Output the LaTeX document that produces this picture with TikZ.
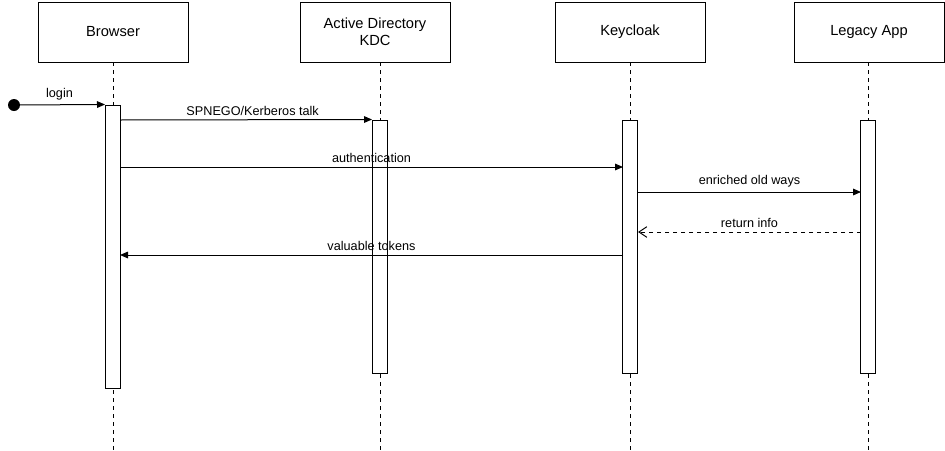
\documentclass[tikz,border=0pt]{standalone}
\usepackage{fontspec}
\setmainfont{Liberation Sans}
\usetikzlibrary{arrows.meta}
\begin{document}
\begin{tikzpicture}[x=0.75pt,y=-0.75pt,line width=0.75pt,
  actor/.style={draw,fill=white,minimum width=112.5pt,minimum height=45pt,align=center,font=\fontsize{11}{13}\selectfont},
  life/.style={dash pattern=on 3pt off 3pt},
  act/.style={draw,fill=white,minimum width=11.25pt,inner sep=0pt},
  msg/.style={-{Triangle[length=6pt,width=5pt]}},
  ret/.style={-{Straight Barb[length=6pt,width=8pt]},dash pattern=on 3pt off 3pt},
  lbl/.style={font=\fontsize{9.5}{11}\selectfont,above,inner sep=3pt}]
\useasboundingbox (0,0) rectangle (945,450);
% lifelines
\foreach \x in {113,380,630,868}
  \draw[life] (\x,62) -- (\x,450);
% participants
\node[actor] (browser) at (113,32) {Browser};
\node[actor] (kdc) at (375,32) {Active Directory\\KDC};
\node[actor] (keycloak) at (630,32) {Keycloak};
\node[actor] (legacy) at (869,32) {Legacy App};
% activations
\node[act,minimum height=212.25pt] (abrowser) at (113,246.5) {};
\node[act,minimum height=189.75pt] (akdc) at (380,246.5) {};
\node[act,minimum height=189.75pt] (akeycloak) at (630,246.5) {};
\node[act,minimum height=189.75pt] (alegacy) at (868,246.5) {};
% messages
\coordinate (start) at (14,105);
\fill (start) circle (4.5pt);
\draw[msg] (start) -- (abrowser.north west) node[lbl,midway] {login};
\draw[msg] (120,120) -- (akdc.north west) node[lbl,midway,xshift=5pt] {SPNEGO/Kerberos talk};
\draw[msg] (120,167) -- (623,167) node[lbl,midway] {authentication};
\draw[msg] (638,192) -- (861,192) node[lbl,midway] {enriched old ways};
\draw[ret] (861,232) -- (638,232) node[lbl,midway] {return info};
\draw[msg] (623,255) -- (120,255) node[lbl,midway] {valuable tokens};
\end{tikzpicture}
\end{document}
